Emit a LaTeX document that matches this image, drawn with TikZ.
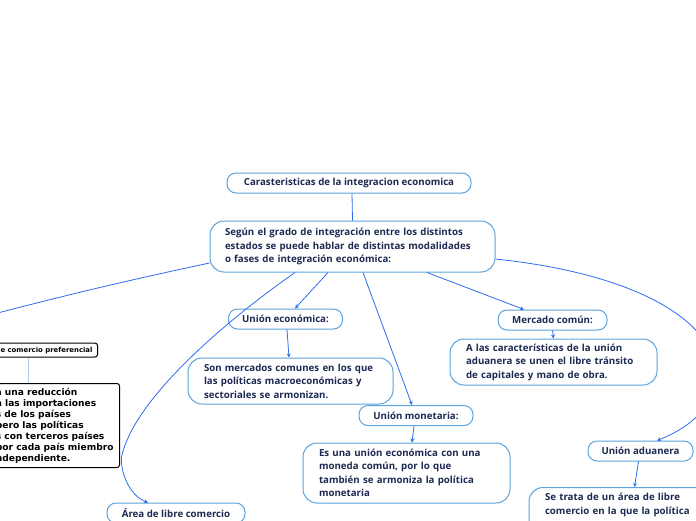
\documentclass[tikz,border=0pt]{standalone}
\usepackage{fontspec}
\setmainfont{Open Sans}
\newfontfamily\dvs{DejaVu Sans}
\usetikzlibrary{arrows.meta}
\definecolor{bord}{HTML}{5BA3DC}
\definecolor{conn}{HTML}{2F6CF0}
\definecolor{navy}{HTML}{1D2951}
\definecolor{lightc}{HTML}{A9C8F2}
\begin{document}
\begin{tikzpicture}[x=1pt,y=-1pt,
  bx/.style={draw=bord, line width=1pt, fill=white, text=navy,
    font=\bfseries\fontsize{9.7}{13.5}\selectfont, inner sep=0pt},
  pill/.style={bx, rounded corners=9pt, minimum height=20pt, align=center},
  big/.style={bx, rounded corners=14pt, align=left},
  blk/.style={draw=black, line width=1pt, fill=white, text=black, rounded corners=2.5pt},
  cn/.style={draw=conn, line width=0.8pt},
  arr/.style={cn, -{Stealth[length=4pt,width=4pt]}},
  lin/.style={draw=lightc, line width=0.9pt}]
\useasboundingbox (0,0) rectangle (696,520);
\fill[white] (0,0) rectangle (696,520);

\node[pill, minimum width=244pt] (title) at (349,183) {Carasteristicas de la integracion economica};
\node[big, minimum width=285pt, minimum height=51pt, text width=255pt] (main) at (352.5,246.5)
  {Según el grado de integración entre los distintos\\estados se puede hablar de distintas modalidades\\o fases de integración económica:};
\node[pill, minimum width=114pt] (uecon) at (285.5,319) {Unión económica:};
\node[big, minimum width=205pt, minimum height=46pt, text width=173pt] (sonm) at (290.5,381)
  {Son mercados comunes en los que\\las políticas macroeconómicas y\\sectoriales se armonizan.};
\node[pill, minimum width=114pt] (umon) at (416,415.5) {Unión monetaria:};
\node[big, minimum width=207pt, minimum height=60pt, text width=175pt] (esuna) at (406.5,473)
  {Es una unión económica con una\\moneda común, por lo que\\también se armoniza la política\\monetaria};
\node[pill, minimum width=109pt] (mcom) at (552.5,320) {Mercado común:};
\node[big, minimum width=207pt, minimum height=46pt, text width=175pt] (alas) at (553.5,362)
  {A las características de la unión\\aduanera se unen el libre tránsito\\de capitales y mano de obra.};
\node[pill, minimum width=105pt] (uadu) at (640.5,451) {Unión aduanera};
\node[big, minimum width=211pt, minimum height=60pt, text width=179pt, anchor=north] (setr) at (634.5,487)
  {Se trata de un área de libre\\comercio en la que la política\\\mbox{}\\\mbox{}};
\node[pill, minimum width=138pt] (ale) at (176,513) {Área de libre comercio};

\node[blk, anchor=east, minimum height=14pt, inner xsep=5pt, inner ysep=0pt,
  font=\dvs\bfseries\fontsize{6.9}{9}\selectfont] (pref) at (98,350) {Área de comercio preferencial};
\node[blk, anchor=north east, align=left, inner xsep=6pt, inner ysep=0pt, minimum height=84pt,
  font=\dvs\bfseries\fontsize{9.1}{11}\selectfont] (pref2) at (120,383)
  {\hspace*{9pt}\llap{Se da }una reducción\\
   \llap{arancelaria }a las importaciones\\
   \llap{procedente}s de los países\\
   \llap{miembros, }pero las políticas\\
   \llap{comerciale}s con terceros países\\
   \llap{son fijadas }por cada país miembro\\
   \llap{de forma i}ndependiente.};

\coordinate (lx) at (28,0);
\coordinate (lp) at (-120,345);

\draw[cn] ([xshift=3pt]title.south) -- (main.north);
\draw[arr] ([xshift=-24.5pt]main.south) -- ([xshift=9.5pt]uecon.north);
\draw[arr] ([xshift=10.5pt]main.south) -- ([xshift=-4pt]umon.north);
\draw[arr] ([xshift=74.5pt]main.south) -- ([xshift=-28.5pt]mcom.north);
\draw[arr] ([xshift=-57.5pt]main.south) .. controls (220,325) and (135,400) .. (122,455)
  .. controls (119,468) and (128,495) .. ([xshift=-28pt]ale.north);
\draw[arr] ([yshift=-12.5pt]main.east) .. controls (740,285) and (760,400) .. ([xshift=16.5pt]uadu.north);
\draw[cn] ([yshift=-16.5pt]main.west) .. controls (130,280) and (40,300) .. (lp);
\draw[arr] ([xshift=1.5pt]uecon.south) -- ([xshift=-1.5pt]sonm.north);
\draw[arr] ([xshift=-2pt]umon.south) -- ([xshift=5.5pt]esuna.north);
\draw[arr] (mcom.south) -- (alas.north);
\draw[arr] ([xshift=-2pt]uadu.south) -- (setr.north);
\draw[lin] (pref.south -| lx) -- (pref2.north -| lx);
\end{tikzpicture}
\end{document}
